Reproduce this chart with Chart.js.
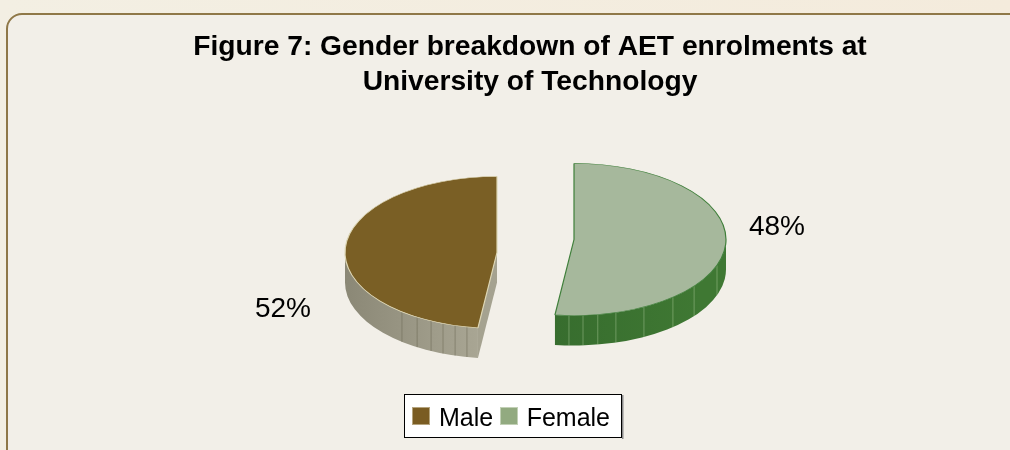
<!DOCTYPE html>
<html><head><meta charset="utf-8">
<style>html,body{margin:0;padding:0;background:#f2efe8;overflow:hidden}canvas{display:block}</style>
<script src="https://cdn.jsdelivr.net/npm/chart.js@4"></script>
</head><body><canvas id="c" width="1010" height="450"></canvas>
<script>
const categories = ['Male', 'Female'];
// Slice sweep as drawn in the picture (about 48/52), with the printed labels kept as shown.
const sliceValues = [48, 52];
const printedLabels = ['52%', '48%'];
const titleLines = ['Figure 7: Gender breakdown of AET enrolments at', 'University of Technology'];

const FONT = '"Liberation Sans", Arial, sans-serif';
const RX = 152, RY = 76, DEPTH = 30;
const sliceStyle = [
  {cx:497, cy:252.5, top:'#7a5f25', edge:'#ddd6b4', legend:'#7a5c22', legendEdge:'#b5a47e', swatchX:412, labelDx:-214, labelDy:57,
   wall:['#8b8876','#a9a694'], wallX:[345,480], line:'rgba(110,105,85,0.55)',
   stripes:[180+11.4,180+16,180+20.8,180+25.7,180+31.7,180+38.7]},
  {cx:574, cy:239.5, top:'#a6b89c', edge:'#3f7f3a', legend:'#92aa80', legendEdge:'#c2d0b6', swatchX:500, labelDx:203, labelDy:-12,
   wall:['#376d2e','#3f7833'], wallX:[555,700], line:'rgba(190,215,170,0.4)',
   stripes:[181.9,176.6,171,164,152.6,139.4,127.8,109.8]}
];

const pie3d = {
  id:'pie3d',
  beforeDraw(chart){
    const ctx = chart.ctx;
    ctx.save();
    const g = ctx.createLinearGradient(0,0,1010,0);
    g.addColorStop(0,'#f3efe3'); g.addColorStop(1,'#f4ebdc');
    ctx.fillStyle = g; ctx.fillRect(0,0,1010,450);
    ctx.beginPath();
    ctx.roundRect(7,14,1040,480,15);
    ctx.fillStyle = '#f2efe8'; ctx.fill();
    ctx.lineWidth = 2; ctx.strokeStyle = '#8f7848'; ctx.stroke();
    // legend box
    ctx.fillStyle = '#8a8a8a'; ctx.fillRect(622,395,1.5,44);
    ctx.fillStyle = '#ffffff'; ctx.fillRect(404.5,394.5,217,43);
    ctx.lineWidth = 1; ctx.strokeStyle = '#000000'; ctx.strokeRect(404.5,394.5,217,43);
    // legend swatches sit slightly above the text centre
    sliceStyle.forEach(s => {
      ctx.fillStyle = s.legend; ctx.strokeStyle = s.legendEdge;
      ctx.fillRect(s.swatchX,407,18,18); ctx.strokeRect(s.swatchX+0.5,407.5,17,17);
    });
    ctx.restore();
  },
  afterLayout(chart){
    const t = chart.titleBlock; t.left = 50; t.right = 1010; t.top = 29.5;
    const l = chart.legend; l.left = 401.75; l.right = 621.75; l.top = 399;
  },
  beforeDatasetDraw(chart, args){
    const ctx = chart.ctx, arcs = chart.getDatasetMeta(args.index).data;
    arcs.forEach((arc, i) => {
      const s = sliceStyle[i];
      const a0 = arc.startAngle, a1 = arc.endAngle, TAU = Math.PI*2;
      ctx.save();
      const grad = ctx.createLinearGradient(s.wallX[0],0,s.wallX[1],0);
      grad.addColorStop(0,s.wall[0]); grad.addColorStop(1,s.wall[1]);
      // cut face, only the male one faces the viewer
      if (i === 0) {
        const ex = s.cx + RX*Math.cos(a0), ey = s.cy + RY*Math.sin(a0);
        ctx.beginPath();
        ctx.moveTo(s.cx,s.cy); ctx.lineTo(ex,ey); ctx.lineTo(ex,ey+DEPTH); ctx.lineTo(s.cx,s.cy+DEPTH);
        ctx.closePath(); ctx.fillStyle = '#a5a290'; ctx.fill();
      }
      // curved wall on the front half
      for (const k of [0, TAU]) {
        const lo = Math.max(a0,k), hi = Math.min(a1,k+Math.PI);
        if (hi <= lo) continue;
        ctx.beginPath();
        ctx.ellipse(s.cx,s.cy,RX,RY,0,lo,hi);
        ctx.ellipse(s.cx,s.cy+DEPTH,RX,RY,0,hi,lo,true);
        ctx.closePath(); ctx.fillStyle = grad; ctx.fill();
      }
      ctx.strokeStyle = s.line; ctx.lineWidth = 1;
      for (const t of s.stripes) {
        const a = (t-90)*Math.PI/180, x = s.cx+RX*Math.cos(a), y = s.cy+RY*Math.sin(a);
        ctx.beginPath(); ctx.moveTo(x,y); ctx.lineTo(x,y+DEPTH); ctx.stroke();
      }
      // top face: the library's own arc, squashed into an ellipse
      ctx.translate(s.cx,s.cy); ctx.scale(1,RY/RX); ctx.translate(-arc.x,-arc.y);
      arc.draw(ctx);
      ctx.restore();
      ctx.save();
      ctx.font = '28px '+FONT; ctx.fillStyle = '#000'; ctx.textAlign='center'; ctx.textBaseline='middle';
      ctx.fillText(printedLabels[i], s.cx+s.labelDx, s.cy+s.labelDy);
      ctx.restore();
    });
    return false;
  }
};

new Chart(document.getElementById('c'), {
  type:'pie',
  data:{labels:categories, datasets:[{
    data:sliceValues,
    backgroundColor:sliceStyle.map(s=>s.top),
    borderColor:sliceStyle.map(s=>s.edge),
    borderWidth:1.2,
    radius:RX
  }]},
  options:{
    responsive:false, animation:false, rotation:187.2,
    plugins:{
      tooltip:{enabled:false},
      title:{display:true, text:titleLines, color:'#000', padding:{top:0,bottom:0},
        font:{family:FONT, size:28.2, weight:'bold', lineHeight:1.24}},
      legend:{position:'bottom', labels:{
        boxWidth:13, boxHeight:13, padding:8, color:'#000', font:{family:FONT,size:25},
        generateLabels:c=>categories.map((name,i)=>({text:name,fillStyle:'rgba(0,0,0,0)',strokeStyle:'rgba(0,0,0,0)',lineWidth:0,index:i,hidden:false}))
      }}
    }
  },
  plugins:[pie3d]
});
</script></body></html>
